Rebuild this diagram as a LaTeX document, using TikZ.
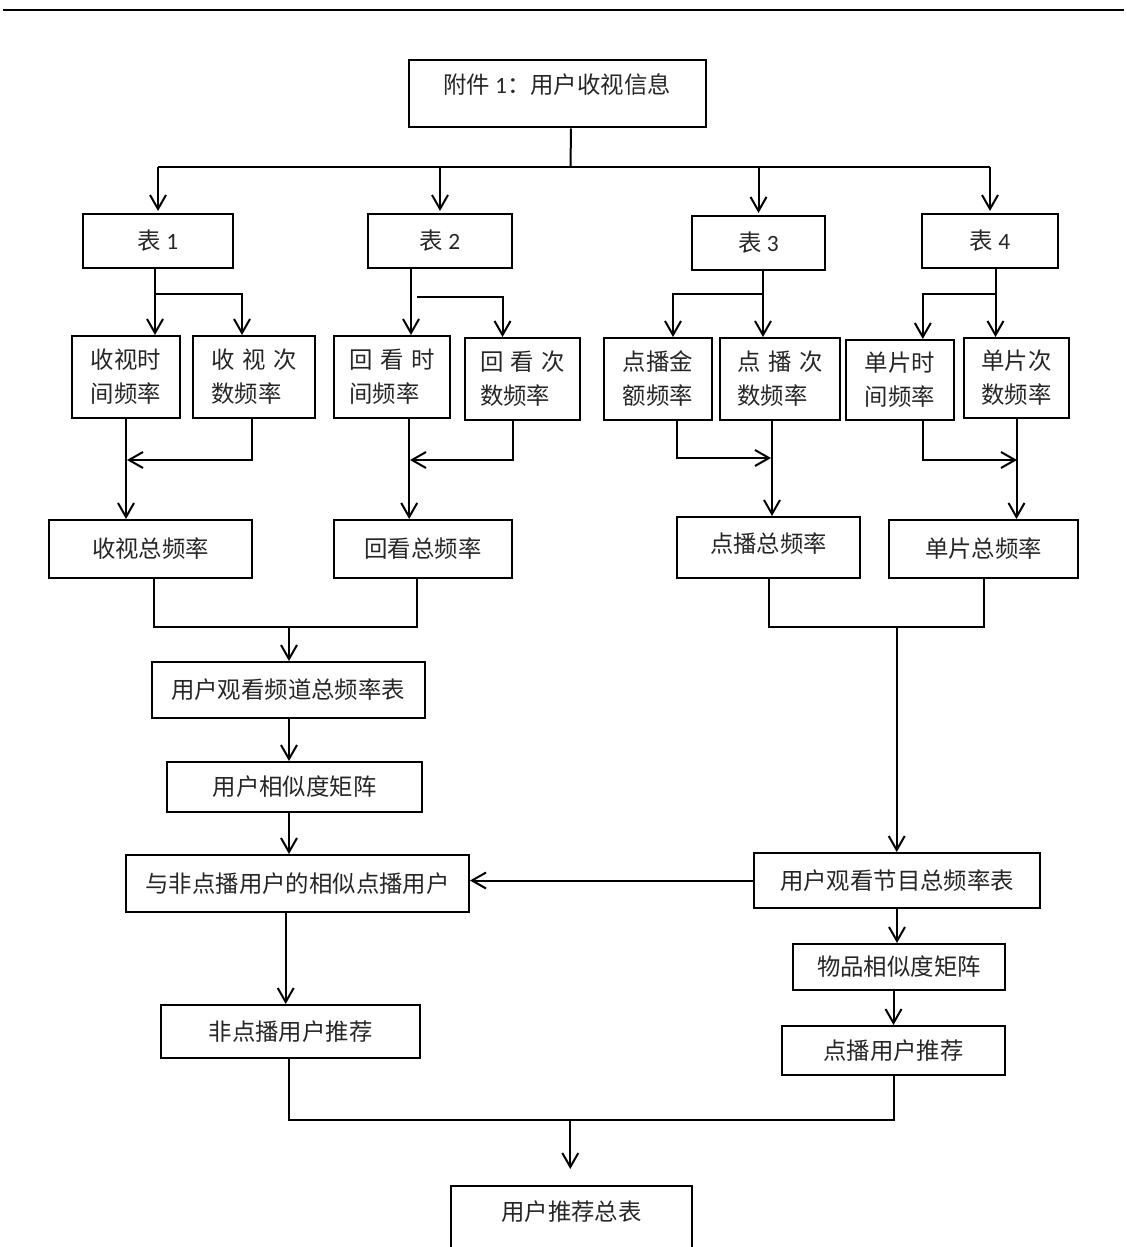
\documentclass[tikz,border=0pt]{standalone}
\usepackage{fontspec}
\setmainfont{Noto Sans CJK SC}
\newfontfamily\latin{Carlito}
\usetikzlibrary{arrows.meta, calc}
\newcommand{\cgap}{\hspace{3.7pt}}
\tikzset{
  every picture/.style={line width=1pt},
  box/.style 2 args={draw, rectangle, inner sep=0pt, minimum width=#1*0.5pt, minimum height=#2*0.5pt,
    align=center, text=black!85, font=\fontsize{11.7pt}{17pt}\selectfont},
  pair/.style={align=left},
  line/.style={draw, line width=1pt},
  arrow/.style={draw, line width=1pt, -{Straight Barb[length=7pt, width=8pt, line width=1pt]}},
}
\begin{document}
\begin{tikzpicture}[x=0.5pt, y=-0.5pt]
  \useasboundingbox (0,0) rectangle (1126,1247);
  % page header rule
  \draw[line width=1.3pt] (3,10) -- (1124,10);
  % source and the four tables
  \node[box={297}{67}, text depth=10pt] (src) at (557,94) {附件 {\latin 1}：用户收视信息};
  \node[box={150}{54}] (t1) at (158,241) {表 {\latin 1}};
  \node[box={144}{54}] (t2) at (440,241) {表 {\latin 2}};
  \node[box={133}{54}] (t3) at (758.5,243) {表 {\latin 3}};
  \node[box={136}{54}] (t4) at (990,241) {表 {\latin 4}};
  % frequencies per table
  \node[box={108}{82}, pair] (a1) at (126,377) {收视时\\间频率};
  \node[box={122}{82}, pair] (a2) at (254,377) {收\cgap 视\cgap 次\\数频率};
  \node[box={116}{82}, pair] (b1) at (392,377) {回\cgap 看\cgap 时\\间频率};
  \node[box={115}{82}, pair] (b2) at (522.5,379) {回\cgap 看\cgap 次\\数频率};
  \node[box={108}{82}, pair] (c1) at (658,379) {点播金\\额频率};
  \node[box={120}{82}, pair] (c2) at (780,379) {点\cgap 播\cgap 次\\数频率};
  \node[box={108}{80}, pair] (d1) at (900,380) {单片时\\间频率};
  \node[box={105}{80}, pair] (d2) at (1016.5,378) {单片次\\数频率};
  % totals
  \node[box={203}{58}] (sa) at (150.5,549) {收视总频率};
  \node[box={178}{58}] (sb) at (423,549) {回看总频率};
  \node[box={183}{61}, text depth=5pt] (sc) at (768.5,547.5) {点播总频率};
  \node[box={189}{58}] (sd) at (983.5,549) {单片总频率};
  % left column
  \node[box={273}{56}] (ch) at (288,690) {用户观看频道总频率表};
  \node[box={255}{50}] (um) at (294.5,787) {用户相似度矩阵};
  \node[box={343}{57}] (sim) at (297.5,883.5) {与非点播用户的相似点播用户};
  \node[box={259}{53}] (nr) at (290.5,1031.5) {非点播用户推荐};
  % right column
  \node[box={286}{55}] (pg) at (897,880.5) {用户观看节目总频率表};
  \node[box={212}{46}] (im) at (899,967) {物品相似度矩阵};
  \node[box={223}{49}] (dr) at (893.5,1050.5) {点播用户推荐};
  % result
  \node[box={241}{70}, text depth=10pt] (tot) at (571.5,1221) {用户推荐总表};

  % source to tables
  \coordinate (bus1) at (570.5,167);
  \draw[line] ([xshift=7pt]src.south) -- (bus1);
  \draw[line] (t1.north |- bus1) -- (t4.north |- bus1);
  \foreach \t in {t1,t2,t3,t4} \draw[arrow] (\t.north |- bus1) -- ([yshift=1pt]\t.north);
  % tables to frequencies
  \draw[arrow] ([xshift=-1.5pt]t1.south) -- ([xshift=-1.5pt]t1.south |- a1.north);
  \draw[arrow] (155,294) -| ([xshift=-6pt]a2.north);
  \draw[arrow] ([xshift=-14.5pt]t2.south) -- ([xshift=-14.5pt]t2.south |- b1.north);
  \draw[arrow] (417,297) -| ([xshift=-10pt]b2.north);
  \draw[arrow] ([xshift=2.25pt]t3.south) -- ([xshift=2.25pt]t3.south |- c2.north);
  \draw[arrow] (763,294) -| ([xshift=7.5pt]c1.north);
  \draw[arrow] ([xshift=2.75pt]t4.south) -- ([xshift=2.75pt]t4.south |- d2.north);
  \draw[arrow] (995.5,294) -| ([xshift=11.4pt]d1.north);
  % frequencies to totals
  \draw[arrow] (a1.south) -- (a1.south |- sa.north);
  \draw[arrow] ([xshift=-1pt]a2.south) |- (127,460);
  \draw[arrow] ([xshift=8.6pt]b1.south) -- ([xshift=8.6pt]b1.south |- sb.north);
  \draw[arrow] ([xshift=-5pt]b2.south) |- (410,460);
  \draw[arrow] ([xshift=9.7pt]c1.south) |- (771,458);
  \draw[arrow] ([xshift=-4pt]c2.south) -- ([xshift=-4pt]c2.south |- sc.north);
  \draw[arrow] ([xshift=11.4pt]d1.south) |- (1017,460);
  \draw[arrow] (d2.south) -- (d2.south |- sd.north);
  % channel branch
  \coordinate (bus2) at (289,627.3);
  \draw[line] ([xshift=1.9pt]sa.south) |- (bus2) -| ([xshift=-3.2pt]sb.south);
  \draw[arrow] (bus2) -- (bus2 |- ch.north);
  \draw[arrow] (bus2 |- ch.south) -- (bus2 |- um.north);
  \draw[arrow] (bus2 |- um.south) -- (bus2 |- sim.north);
  \draw[arrow] ([xshift=-2.4pt]nr.north |- sim.south) -- ([xshift=-2.4pt]nr.north);
  % programme branch
  \coordinate (bus3) at (896.7,627.3);
  \draw[line] (sc.south) |- (bus3) -| (sd.south);
  \draw[arrow] (bus3) -- (bus3 |- pg.north);
  \draw[arrow] (pg.west) -- (pg.west -| sim.east);
  \draw[arrow] (pg.south) -- (pg.south |- im.north);
  \draw[arrow] (dr.north |- im.south) -- (dr.north);
  % merge of recommendations
  \coordinate (bus4) at (570.3,1120);
  \draw[line] ([xshift=-0.8pt]nr.south) |- (bus4) -| (dr.south);
  \draw[arrow] (bus4) -- ([yshift=8pt]bus4 |- tot.north);
\end{tikzpicture}
\end{document}
